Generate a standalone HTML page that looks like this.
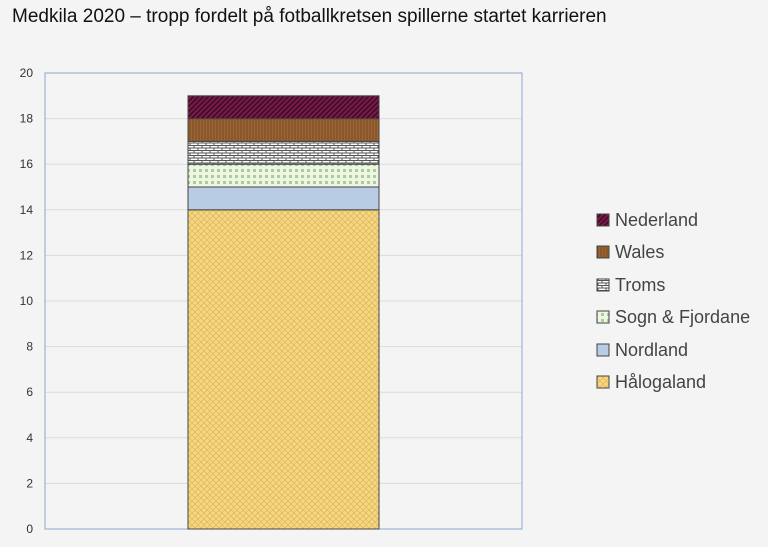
<!DOCTYPE html>
<html><head><meta charset="utf-8"><style>
body{margin:0;background:#f4f4f4;}
svg{display:block;font-family:"Liberation Sans",sans-serif;}
</style></head><body>
<svg width="768" height="547" viewBox="0 0 768 547">
<defs>
<pattern id="hal" width="6" height="6" patternUnits="userSpaceOnUse"><rect width="6" height="6" fill="#f6d784"/><path d="M0 3L3 0M3 6L6 3M0 3L3 6M3 0L6 3" stroke="#e0b95a" stroke-width="0.8"/></pattern>
<pattern id="sogn" width="6" height="6" patternUnits="userSpaceOnUse"><rect width="6" height="6" fill="#eef5e6"/><rect x="1" y="1" width="3" height="3" fill="#a9cf8e"/></pattern>
<pattern id="troms" width="8" height="5" patternUnits="userSpaceOnUse"><rect width="8" height="5" fill="#fff"/><path d="M0 0.5H8M0 3H8M2 0V3M6 3V5" stroke="#555" stroke-width="1"/></pattern>
<pattern id="wales" width="3" height="3" patternUnits="userSpaceOnUse"><rect width="3" height="3" fill="#9c6535"/><path d="M1 0V3" stroke="#7a4a22" stroke-width="1"/></pattern>
<pattern id="ned" width="5" height="5" patternUnits="userSpaceOnUse"><rect width="5" height="5" fill="#7a1a4a"/><path d="M-1 1L1 -1M0 5L5 0M4 6L6 4" stroke="#3a0a22" stroke-width="1.5"/></pattern>
</defs>
<rect width="768" height="547" fill="#f4f4f4"/>
<text x="12" y="22" font-size="19" fill="#111">Medkila 2020 – tropp fordelt på fotballkretsen spillerne startet karrieren</text>
<g stroke="#dcdcdc" stroke-width="1">
<line x1="45" x2="522" y1="483.4" y2="483.4"/><line x1="45" x2="522" y1="437.8" y2="437.8"/><line x1="45" x2="522" y1="392.2" y2="392.2"/><line x1="45" x2="522" y1="346.6" y2="346.6"/><line x1="45" x2="522" y1="301" y2="301"/><line x1="45" x2="522" y1="255.4" y2="255.4"/><line x1="45" x2="522" y1="209.8" y2="209.8"/><line x1="45" x2="522" y1="164.2" y2="164.2"/><line x1="45" x2="522" y1="118.6" y2="118.6"/>
</g>
<rect x="45" y="73" width="477" height="456" fill="none" stroke="#8ea6cc" stroke-width="1"/>
<g font-size="12" fill="#333" text-anchor="end">
<text x="33" y="533">0</text><text x="33" y="487.4">2</text><text x="33" y="441.8">4</text><text x="33" y="396.2">6</text><text x="33" y="350.6">8</text><text x="33" y="305">10</text><text x="33" y="259.4">12</text><text x="33" y="213.8">14</text><text x="33" y="168.2">16</text><text x="33" y="122.6">18</text><text x="33" y="77">20</text>
</g>
<g stroke="#444" stroke-width="1">
<rect x="188" y="209.8" width="191" height="319.2" fill="url(#hal)"/>
<rect x="188" y="187" width="191" height="22.8" fill="#b8cde4"/>
<rect x="188" y="164.2" width="191" height="22.8" fill="url(#sogn)"/>
<rect x="188" y="141.4" width="191" height="22.8" fill="url(#troms)"/>
<rect x="188" y="118.6" width="191" height="22.8" fill="url(#wales)"/>
<rect x="188" y="95.8" width="191" height="22.8" fill="url(#ned)"/>
</g>
<g font-size="18" fill="#444">
<rect x="597" y="214" width="12" height="12" fill="url(#ned)" stroke="#444"/><text x="615" y="226">Nederland</text>
<rect x="597" y="246" width="12" height="12" fill="url(#wales)" stroke="#444"/><text x="615" y="258">Wales</text>
<rect x="597" y="279" width="12" height="12" fill="url(#troms)" stroke="#444"/><text x="615" y="291">Troms</text>
<rect x="597" y="311" width="12" height="12" fill="url(#sogn)" stroke="#444"/><text x="615" y="323">Sogn &amp; Fjordane</text>
<rect x="597" y="344" width="12" height="12" fill="#b8cde4" stroke="#444"/><text x="615" y="356">Nordland</text>
<rect x="597" y="376" width="12" height="12" fill="url(#hal)" stroke="#444"/><text x="615" y="388">Hålogaland</text>
</g>
</svg>
</body></html>
